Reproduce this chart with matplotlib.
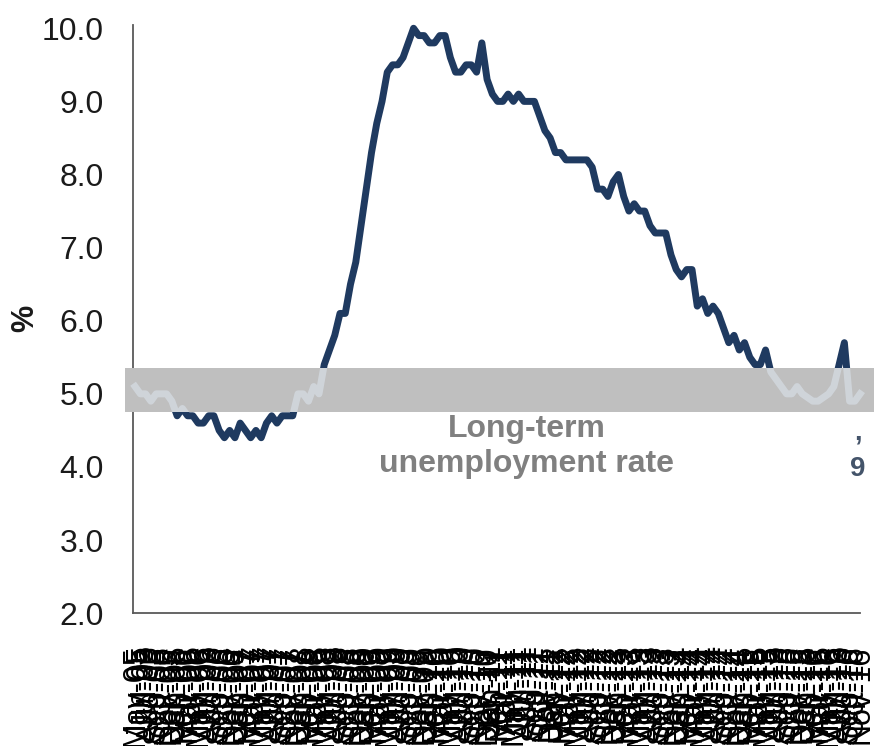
import numpy as np
import pandas as pd
import matplotlib
matplotlib.use('Agg')
import matplotlib.pyplot as plt
from matplotlib.patches import Rectangle
import matplotlib.transforms as mtransforms

plt.rcParams['font.family'] = ['Liberation Sans', 'DejaVu Sans']

# Monthly unemployment rate (%), May 2005 - Nov 2016
months = pd.date_range('2005-05-01', periods=139, freq='MS')
month_labels = [m.strftime('%b-%y') for m in months]
rate = [
    5.1, 5.0, 5.0, 4.9, 5.0, 5.0, 5.0, 4.9,                     # 2005
    4.7, 4.8, 4.7, 4.7, 4.6, 4.6, 4.7, 4.7, 4.5, 4.4, 4.5, 4.4,  # 2006
    4.6, 4.5, 4.4, 4.5, 4.4, 4.6, 4.7, 4.6, 4.7, 4.7, 4.7, 5.0,  # 2007
    5.0, 4.9, 5.1, 5.0, 5.4, 5.6, 5.8, 6.1, 6.1, 6.5, 6.8, 7.3,  # 2008
    7.8, 8.3, 8.7, 9.0, 9.4, 9.5, 9.5, 9.6, 9.8, 10.0, 9.9, 9.9, # 2009
    9.8, 9.8, 9.9, 9.9, 9.6, 9.4, 9.4, 9.5, 9.5, 9.4, 9.8, 9.3,  # 2010
    9.1, 9.0, 9.0, 9.1, 9.0, 9.1, 9.0, 9.0, 9.0, 8.8, 8.6, 8.5,  # 2011
    8.3, 8.3, 8.2, 8.2, 8.2, 8.2, 8.2, 8.1, 7.8, 7.8, 7.7, 7.9,  # 2012
    8.0, 7.7, 7.5, 7.6, 7.5, 7.5, 7.3, 7.2, 7.2, 7.2, 6.9, 6.7,  # 2013
    6.6, 6.7, 6.7, 6.2, 6.3, 6.1, 6.2, 6.1, 5.9, 5.7, 5.8, 5.6,  # 2014
    5.7, 5.5, 5.4, 5.4, 5.6, 5.3, 5.2, 5.1, 5.0, 5.0, 5.1, 5.0,  # 2015
    4.95, 4.9, 4.9, 4.95, 5.0, 5.1, 5.4, 5.7, 4.9, 4.9, 5.0,     # 2016
]
yticks = [2.0, 3.0, 4.0, 5.0, 6.0, 7.0, 8.0, 9.0, 10.0]
band_low, band_high = 4.75, 5.36   # long-term unemployment rate range

LINE = '#1f3a60'
BAND = '#bfbfbf'

fig = plt.figure(figsize=(8.75, 7.46), dpi=100)
ax = fig.add_axes([0.152, 0.178, 0.831, 0.789])

x = np.arange(len(rate))
ax.plot(x, rate, color=LINE, lw=5, solid_joinstyle='round', zorder=2, clip_on=False)

# grey band laid over the line, starting a bit left of the y axis
trans = mtransforms.blended_transform_factory(ax.transAxes, ax.transData)
band = Rectangle((-0.011, band_low), 1.03, band_high - band_low, transform=trans,
                 facecolor=BAND, edgecolor='none', zorder=3, clip_on=False)
ax.add_patch(band)
# the line shows through the band as a pale trace
ghost, = ax.plot(x, rate, color='#dde6f0', alpha=0.55, lw=5, zorder=4)
ghost.set_clip_path(band)

ax.text(74.5, 4.72, 'Long-term\nunemployment rate', ha='center', va='top',
        fontsize=23, fontweight='bold', color='#808080', linespacing=1.2, zorder=5)
ax.text(137.6, 4.45, '\u2019\n9', ha='center', va='top', fontsize=20,
        fontweight='bold', color='#44546a', linespacing=0.8, clip_on=False)

ax.set_ylim(2.0, 10.05)
ax.set_xlim(-0.4, 137.1)
ax.set_yticks(yticks)
ax.set_yticklabels([f'{v:.1f}' for v in yticks])
ax.set_xticks(x)
ax.set_xticklabels(month_labels, rotation=90)
ax.tick_params(axis='y', length=0, pad=21, labelsize=23, labelcolor='#1a1a1a')
ax.tick_params(axis='x', length=0, pad=23, labelsize=22, labelcolor='#000000')
ax.set_ylabel('%', fontsize=22, fontweight='bold', color='#1a1a1a')
ax.yaxis.set_label_coords(-0.128, 0.5)

for s in ['top', 'right']:
    ax.spines[s].set_visible(False)
for s in ['left', 'bottom']:
    ax.spines[s].set_color('#595959')
    ax.spines[s].set_linewidth(1.3)

fig.savefig('out.png', dpi=100)
